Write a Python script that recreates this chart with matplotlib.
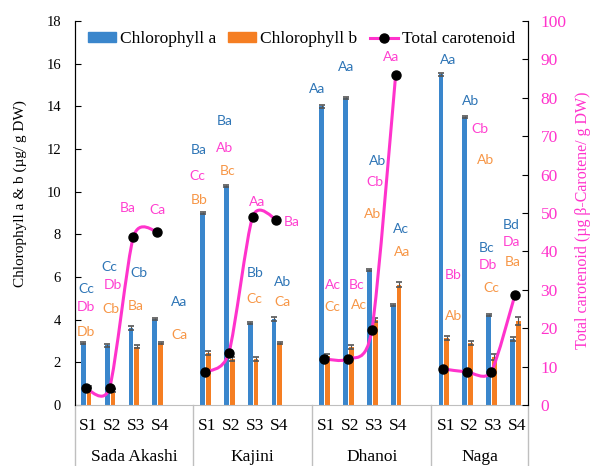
import numpy as np
import matplotlib
matplotlib.use('Agg')
import matplotlib.pyplot as plt
from matplotlib.path import Path
from matplotlib.patches import PathPatch, Patch
from matplotlib.lines import Line2D
import matplotlib.transforms as mtransforms

# data
varieties = ['Sada Akashi', 'Kajini', 'Dhanoi', 'Naga']
stages = ['S1', 'S2', 'S3', 'S4']

chl_a = [2.90, 2.80, 3.60, 4.03, 9.00, 10.27, 3.85, 4.03,
         14.00, 14.40, 6.33, 4.69, 15.50, 13.50, 4.22, 3.10]
chl_b = [0.84, 0.68, 2.74, 2.90, 2.44, 2.16, 2.16, 2.90,
         2.30, 2.72, 3.98, 5.63, 3.14, 2.90, 2.25, 3.94]
carot = [4.4, 4.5, 43.8, 45.1, 8.6, 13.5, 49.0, 48.2,
         12.0, 12.0, 19.5, 86.0, 9.4, 8.6, 8.6, 28.6]
err_a = [0.06, 0.06, 0.08, 0.06, 0.06, 0.06, 0.06, 0.08,
         0.06, 0.06, 0.06, 0.04, 0.06, 0.06, 0.06, 0.08]
err_b = [0.06, 0.06, 0.06, 0.04, 0.10, 0.08, 0.08, 0.04,
         0.10, 0.10, 0.10, 0.12, 0.10, 0.10, 0.12, 0.18]

# significance letters (chl a, chl b, carotenoid) per sample
let_a = ['Cc', 'Cc', 'Cb', 'Aa', 'Ba', 'Ba', 'Bb', 'Ab',
         'Aa', 'Aa', 'Ab', 'Ac', 'Aa', 'Ab', 'Bc', 'Bd']
let_b = ['Db', 'Cb', 'Ba', 'Ca', 'Bb', 'Bc', 'Cc', 'Ca',
         'Cc', 'Ac', 'Ab', 'Aa', 'Ab', 'Ab', 'Cc', 'Ba']
let_c = ['Db', 'Db', 'Ba', 'Ca', 'Cc', 'Ab', 'Aa', 'Ba',
         'Ac', 'Bc', 'Cb', 'Aa', 'Bb', 'Cb', 'Db', 'Da']

# label placement (x offset from slot, y in left-axis units)
pos_a = [(0.01, 5.44), (-0.02, 6.47), (0.23, 6.19), (0.91, 4.83),
         (-0.25, 11.95), (-0.16, 13.31), (0.10, 6.19), (0.27, 5.77),
         (-0.30, 14.81), (-0.08, 15.85), (0.22, 11.44), (0.22, 8.25),
         (0.20, 16.17), (0.16, 14.25), (-0.17, 7.36), (-0.16, 8.44)]
pos_b = [(0.01, 3.42), (0.06, 4.50), (0.11, 4.64), (0.91, 3.28),
         (-0.25, 9.61), (-0.07, 10.97), (0.06, 4.97), (0.27, 4.83),
         (0.33, 4.59), (0.46, 4.69), (0.05, 8.95), (0.27, 7.17),
         (0.41, 4.17), (0.75, 11.49), (0.00, 5.49), (-0.08, 6.70)]
pos_c = [(0.01, 4.59), (0.14, 5.63), (-0.23, 9.24), (-0.01, 9.14),
         (-0.33, 10.74), (-0.16, 12.05), (0.18, 9.52), (0.65, 8.58),
         (0.37, 5.63), (0.38, 5.63), (0.13, 10.45), (-0.19, 16.32),
         (0.41, 6.09), (0.54, 12.94), (-0.13, 6.56), (-0.16, 7.64)]

group_slots = [[0, 1, 2, 3], [5, 6, 7, 8], [10, 11, 12, 13], [15, 16, 17, 18]]
x = np.array([s for g in group_slots for s in g], dtype=float)

blue = '#3A86CC'
orange = '#F57E22'
pink = '#FF33CC'
t_blue = '#2E75B6'
t_orange = '#F79646'
t_pink = '#FF40D0'
serif = 'Liberation Serif'

fig = plt.figure(figsize=(5.92, 4.66), dpi=100)
ax = fig.add_axes([75 / 592, 61 / 466, 453 / 592, 384 / 466])
ax2 = ax.twinx()

ekw = dict(ecolor='#555555', elinewidth=0.8, capsize=2, capthick=1.2)
ax.bar(x - 0.1, chl_a, width=0.2, color=blue, yerr=err_a, error_kw=ekw, zorder=2)
ax.bar(x + 0.14, chl_b, width=0.2, color=orange, yerr=err_b, error_kw=ekw, zorder=2)

ax.set_xlim(-0.45, 18.55)
ax.set_ylim(0, 18)
ax.set_yticks(np.arange(0, 19, 2))
ax2.set_ylim(0, 100)
ax2.set_yticks(np.arange(0, 101, 10))


# smoothed line like Excel, drawn as bezier path
def smooth_path(xs, ys, f=1 / 8):
    pts = np.column_stack([xs, ys])
    n = len(pts)
    verts = [pts[0]]
    codes = [Path.MOVETO]
    for i in range(n - 1):
        p0 = pts[max(i - 1, 0)]
        p1 = pts[i]
        p2 = pts[i + 1]
        p3 = pts[min(i + 2, n - 1)]
        verts += [p1 + (p2 - p0) * f, p2 - (p3 - p1) * f, p2]
        codes += [Path.CURVE4] * 3
    return Path(verts, codes)


carot_arr = np.array(carot)
for g in range(4):
    xs = x[g * 4:(g + 1) * 4]
    ys = carot_arr[g * 4:(g + 1) * 4]
    ax2.add_patch(PathPatch(smooth_path(xs, ys), facecolor='none',
                            edgecolor=pink, lw=2.2, zorder=3))
    ax2.plot(xs, ys, 'o', color='black', ms=6.5, zorder=4)

# letters
for lets, poss, col in [(let_a, pos_a, t_blue), (let_b, pos_b, t_orange), (let_c, pos_c, t_pink)]:
    for i in range(16):
        dx, yy = poss[i]
        ax2.text(x[i] + dx, yy, lets[i], transform=ax.transData, color=col,
                 fontsize=10, family='Lato', ha='center', va='center', zorder=5)

# axes styling
for a in (ax, ax2):
    a.spines['top'].set_visible(False)
ax.spines['bottom'].set_color('#BFBFBF')
ax2.spines['bottom'].set_visible(False)
ax.spines['left'].set_color('black')
ax2.spines['right'].set_color('black')
ax.tick_params(axis='y', direction='in', length=4, pad=10, labelsize=10.5)
ax2.tick_params(axis='y', direction='in', length=4, pad=9, labelsize=12.5, labelcolor=pink)
for lab in ax.get_yticklabels() + ax2.get_yticklabels():
    lab.set_family(serif)

ax.set_xticks(x + 0.1)
ax.set_xticklabels(stages * 4, family=serif, fontsize=12.5)
ax.tick_params(axis='x', length=0, pad=9)

# multi level category axis
trans = mtransforms.blended_transform_factory(ax.transData, ax.transAxes)
for b in [-0.45, 4.5, 9.5, 14.5, 18.55]:
    ax.add_line(Line2D([b, b], [0, -61 / 384], transform=trans, color='#BFBFBF',
                       lw=1, clip_on=False))
bounds = [(-0.45, 4.5), (4.5, 9.5), (9.5, 14.5), (14.5, 18.55)]
for name, (l, r) in zip(varieties, bounds):
    ax.text((l + r) / 2, -52 / 384, name, transform=trans, ha='center', va='center',
            family=serif, fontsize=12.5)

fig.text(20 / 592, (466 - 194) / 466, 'Chlorophyll a & b (µg/ g DW)', rotation=90,
         ha='center', va='center', family=serif, fontsize=11)
fig.text(583 / 592, (466 - 220) / 466, 'Total carotenoid (µg β-Carotene/ g DW)', rotation=90,
         ha='center', va='center', family=serif, fontsize=11.5, color=pink)

handles = [Patch(color=blue), Patch(color=orange),
           Line2D([], [], color=pink, lw=2.2, marker='o', mfc='black', mec='black', ms=6.5)]
ax2.legend(handles, ['Chlorophyll a', 'Chlorophyll b', 'Total carotenoid'], loc='center',
           bbox_to_anchor=(0.5, 0.953), ncol=3, frameon=False, handlelength=1.6,
           handleheight=0.45, handletextpad=0.25, columnspacing=0.7,
           prop={'family': serif, 'size': 12.5})

fig.savefig('out.png', dpi=100)
